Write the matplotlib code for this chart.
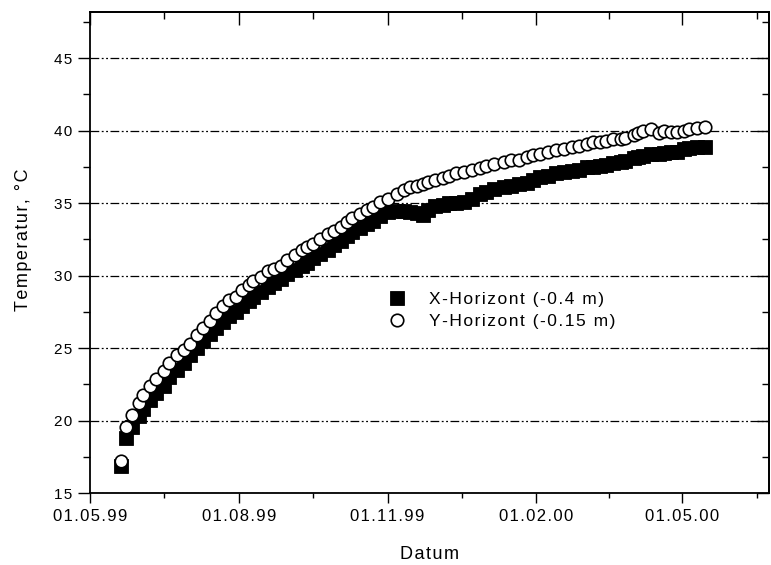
import numpy as np
import matplotlib
matplotlib.use('Agg')
import matplotlib.pyplot as plt
import matplotlib.dates as mdates
from matplotlib.ticker import FixedLocator, NullFormatter, MultipleLocator, FixedFormatter

plt.rcParams['font.family'] = ['Liberation Sans', 'DejaVu Sans']

# ---------------- data ----------------
dates = ['1999-05-20', '1999-05-23', '1999-05-27', '1999-05-31', '1999-06-03', '1999-06-07',
         '1999-06-11', '1999-06-16', '1999-06-19', '1999-06-24', '1999-06-28', '1999-07-02',
         '1999-07-06', '1999-07-10', '1999-07-14', '1999-07-18', '1999-07-22', '1999-07-26',
         '1999-07-30', '1999-08-03', '1999-08-07', '1999-08-10', '1999-08-15', '1999-08-19',
         '1999-08-23', '1999-08-27', '1999-08-31', '1999-09-05', '1999-09-09', '1999-09-12',
         '1999-09-16', '1999-09-20', '1999-09-25', '1999-09-29', '1999-10-03', '1999-10-07',
         '1999-10-10', '1999-10-15', '1999-10-19', '1999-10-23', '1999-10-27', '1999-11-01',
         '1999-11-07', '1999-11-11', '1999-11-15', '1999-11-19', '1999-11-23', '1999-11-26',
         '1999-11-30', '1999-12-05', '1999-12-09', '1999-12-13', '1999-12-18', '1999-12-23',
         '1999-12-28', '2000-01-01', '2000-01-06', '2000-01-12', '2000-01-16', '2000-01-21',
         '2000-01-26', '2000-01-30', '2000-02-03', '2000-02-08', '2000-02-13', '2000-02-18',
         '2000-02-23', '2000-02-27', '2000-03-03', '2000-03-07', '2000-03-11', '2000-03-15',
         '2000-03-19', '2000-03-24', '2000-03-27', '2000-04-01', '2000-04-04', '2000-04-07',
         '2000-04-12', '2000-04-17', '2000-04-20', '2000-04-24', '2000-04-28', '2000-05-02',
         '2000-05-05', '2000-05-10', '2000-05-15']

x_horizont = [16.9, 18.8, 19.6, 20.3, 20.8, 21.4, 21.9, 22.4, 23.0, 23.5,
              24.0, 24.5, 25.0, 25.5, 26.0, 26.4, 26.8, 27.2, 27.5, 27.9,
              28.25, 28.55, 28.85, 29.2, 29.5, 29.8, 30.1, 30.4, 30.7, 30.9,
              31.2, 31.5, 31.8, 32.1, 32.4, 32.7, 33.0, 33.3, 33.55, 33.8,
              34.1, 34.4, 34.45, 34.45, 34.4, 34.3, 34.2, 34.5, 34.8, 34.9,
              35.0, 35.0, 35.1, 35.3, 35.6, 35.8, 36.0, 36.1, 36.2, 36.3,
              36.4, 36.6, 36.8, 36.9, 37.1, 37.15, 37.2, 37.3, 37.5, 37.5,
              37.55, 37.6, 37.75, 37.8, 37.9, 38.1, 38.2, 38.25, 38.4, 38.4,
              38.45, 38.5, 38.5, 38.7, 38.8, 38.85, 38.85]

y_horizont = [17.2, 19.6, 20.4, 21.2, 21.8, 22.4, 22.9, 23.4, 23.95, 24.5,
              24.9, 25.3, 25.9, 26.4, 26.9, 27.4, 27.9, 28.3, 28.5, 29.0,
              29.35, 29.6, 29.9, 30.3, 30.45, 30.7, 31.1, 31.4, 31.75, 31.95,
              32.2, 32.55, 32.85, 33.1, 33.35, 33.7, 34.0, 34.25, 34.5, 34.7,
              35.1, 35.3, 35.6, 35.9, 36.1, 36.2, 36.35, 36.45, 36.6, 36.7,
              36.85, 37.05, 37.15, 37.25, 37.4, 37.55, 37.7, 37.85, 37.95, 37.95,
              38.15, 38.3, 38.4, 38.5, 38.65, 38.75, 38.9, 38.95, 39.1, 39.2,
              39.2, 39.3, 39.4, 39.45, 39.5, 39.7, 39.8, 39.95, 40.1, 39.8,
              39.95, 39.9, 39.9, 40.0, 40.1, 40.2, 40.25]

series_labels = ['X-Horizont (-0.4 m)', 'Y-Horizont (-0.15 m)']
major_tick_dates = ['1999-05-01', '1999-08-01', '1999-11-01', '2000-02-01', '2000-05-01']
major_tick_labels = ['01.05.99', '01.08.99', '01.11.99', '01.02.00', '01.05.00']
minor_tick_dates = ['1999-06-16', '1999-09-16', '1999-12-17', '2000-03-17', '2000-06-16']
x_range = ['1999-05-01', '2000-06-24']
y_ticks = [15, 20, 25, 30, 35, 40, 45]
y_range = [15, 48.15]
x_title = 'Datum'
y_title = 'Temperatur, °C'

# ---------------- helpers ----------------
HS = '\u200a'


def spaced(s):
    return HS.join(s)


def to_num(lst):
    return mdates.date2num(np.array(lst, dtype='datetime64[D]'))


xd = to_num(dates)
maj = to_num(major_tick_dates)
mnr = to_num(minor_tick_dates)
xr = to_num(x_range)

# ---------------- figure ----------------
fig = plt.figure(figsize=(7.71, 5.65), dpi=100)
ax = fig.add_axes([0.1167, 0.1269, 0.8813, 0.8513])

ax.plot(xd, x_horizont, linestyle='none', marker='s', ms=9.4, mfc='black', mec='black',
        mew=0.6, label=spaced(series_labels[0]), zorder=3)
ax.plot(xd, y_horizont, linestyle='none', marker='o', ms=9.0, mfc='white', mec='black',
        mew=1.2, label=spaced(series_labels[1]), zorder=4)

ax.set_xlim(xr[0], xr[1])
ax.set_ylim(*y_range)

ax.xaxis.set_major_locator(FixedLocator(maj))
ax.xaxis.set_major_formatter(FixedFormatter([spaced(s) for s in major_tick_labels]))
ax.xaxis.set_minor_locator(FixedLocator(mnr))
ax.yaxis.set_major_locator(FixedLocator(y_ticks))
ax.yaxis.set_major_formatter(FixedFormatter([spaced(str(v)) for v in y_ticks]))
ax.yaxis.set_minor_locator(MultipleLocator(2.5))

ax.tick_params(axis='x', which='major', direction='out', length=7.5, width=1.0,
               labelsize=12, pad=4, top=False)
ax.tick_params(axis='x', which='minor', direction='out', length=3.5, width=1.0, top=False)
ax.tick_params(axis='y', which='major', direction='out', length=9, width=1.0,
               labelsize=11, pad=4, right=False)
ax.tick_params(axis='y', which='minor', direction='out', length=5, width=1.0, right=False)

for sp in ax.spines.values():
    sp.set_linewidth(1.3)

# inward ticks on top and right
secx = ax.secondary_xaxis('top')
secx.xaxis.set_major_locator(FixedLocator(maj))
secx.xaxis.set_minor_locator(FixedLocator(mnr))
secx.xaxis.set_major_formatter(NullFormatter())
secx.tick_params(axis='x', which='major', direction='in', length=9, width=1.0)
secx.tick_params(axis='x', which='minor', direction='in', length=5, width=1.0)
secx.spines['top'].set_linewidth(1.3)

secy = ax.secondary_yaxis('right')
secy.yaxis.set_major_locator(FixedLocator(y_ticks))
secy.yaxis.set_minor_locator(MultipleLocator(2.5))
secy.yaxis.set_major_formatter(NullFormatter())
secy.tick_params(axis='y', which='major', direction='in', length=9, width=1.0)
secy.tick_params(axis='y', which='minor', direction='in', length=5, width=1.0)
secy.spines['right'].set_linewidth(1.3)

ax.set_axisbelow(True)
ax.grid(axis='y', which='major', color='black', linewidth=0.9,
        linestyle=(0, (7, 2, 1.5, 2, 1.5, 2)))

ax.set_xlabel(spaced(x_title), fontsize=13)
ax.xaxis.label.set_va('baseline')
ax.xaxis.set_label_coords(0.5, -0.136)
ax.set_ylabel(spaced(y_title), fontsize=13)
ax.yaxis.label.set_va('center')
ax.yaxis.set_label_coords(-0.098, 0.527)

leg = ax.legend(loc='upper left', bbox_to_anchor=(0.504, 0.4835),
                bbox_transform=fig.transFigure, frameon=False, fontsize=12.5,
                handlelength=1.0, handletextpad=1.3, labelspacing=0.42,
                borderpad=0, borderaxespad=0, markerscale=1.0)

fig.savefig('out.png', dpi=100)
